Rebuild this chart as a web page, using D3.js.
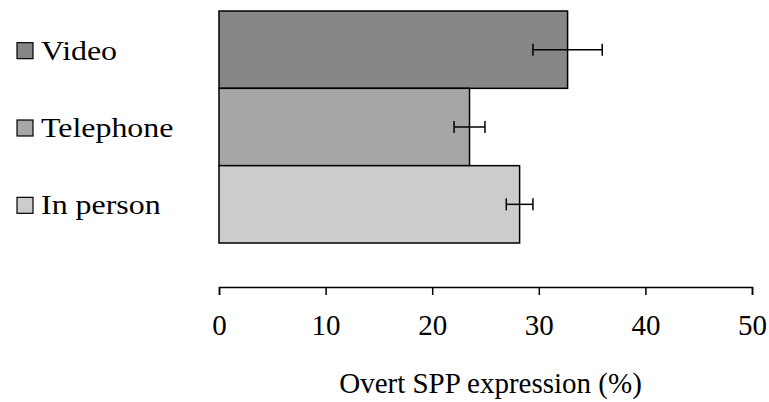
<!DOCTYPE html>
<html>
<head>
<meta charset="utf-8">
<script src="https://cdn.jsdelivr.net/npm/d3@7"></script>
<style>
  html, body { margin: 0; padding: 0; background: #fff; }
</style>
</head>
<body>
<div id="chart"></div>
<script>
// Overt SPP expression by interview mode
const modes = ["Video", "Telephone", "In person"];
const means = [32.7, 23.5, 28.2];
const errors = [3.25, 1.45, 1.25];
const fills = ["#878787", "#a6a6a6", "#cccccc"];
const xTicks = [0, 10, 20, 30, 40, 50];
const xTitle = "Overt SPP expression (%)";

(function () {
  const W = 769, H = 402;
  const FONT = "'Liberation Serif', 'DejaVu Serif', serif";
  const svg = d3.select("#chart").append("svg")
    .attr("width", W).attr("height", H);

  const x = d3.scaleLinear().domain([0, 50]).range([219, 752]);
  const y = d3.scaleBand().domain(modes).range([11, 243]).padding(0);

  // Bars
  svg.selectAll("rect.bar")
    .data(modes)
    .join("rect")
    .attr("class", "bar")
    .attr("x", x(0))
    .attr("y", d => y(d))
    .attr("width", (d, i) => x(means[i]) - x(0))
    .attr("height", y.bandwidth())
    .attr("fill", (d, i) => fills[i])
    .attr("stroke", "#000")
    .attr("stroke-width", 1.5);

  // Error bars
  const capH = 12;
  const eb = svg.selectAll("g.err")
    .data(modes)
    .join("g")
    .attr("class", "err")
    .attr("stroke", "#000")
    .attr("stroke-width", 1.5);
  eb.append("line")
    .attr("x1", (d, i) => x(means[i] - errors[i]))
    .attr("x2", (d, i) => x(means[i] + errors[i]))
    .attr("y1", d => y(d) + y.bandwidth() / 2)
    .attr("y2", d => y(d) + y.bandwidth() / 2);
  eb.append("line")
    .attr("x1", (d, i) => x(means[i] - errors[i]))
    .attr("x2", (d, i) => x(means[i] - errors[i]))
    .attr("y1", d => y(d) + y.bandwidth() / 2 - capH / 2)
    .attr("y2", d => y(d) + y.bandwidth() / 2 + capH / 2);
  eb.append("line")
    .attr("x1", (d, i) => x(means[i] + errors[i]))
    .attr("x2", (d, i) => x(means[i] + errors[i]))
    .attr("y1", d => y(d) + y.bandwidth() / 2 - capH / 2)
    .attr("y2", d => y(d) + y.bandwidth() / 2 + capH / 2);

  // Legend / category labels on the left (text is a bit wide in the original)
  const leg = svg.selectAll("g.leg")
    .data(modes)
    .join("g")
    .attr("class", "leg")
    .attr("transform", d => `translate(17,${y(d) + y.bandwidth() / 2 + 1})`);
  leg.append("rect")
    .attr("x", 0).attr("y", -8)
    .attr("width", 16).attr("height", 16)
    .attr("fill", (d, i) => fills[i])
    .attr("stroke", "#000")
    .attr("stroke-width", 1.2);
  leg.append("text")
    .attr("transform", "translate(24,9) scale(1.14,1)")
    .style("font-family", FONT)
    .style("font-size", "28px")
    .attr("fill", "#000")
    .text(d => d);

  // X axis
  const axis = svg.append("g")
    .attr("transform", "translate(0,287)")
    .call(d3.axisBottom(x).tickValues(xTicks).tickSizeOuter(0).tickSize(8));
  axis.select(".domain").attr("stroke", "#000").attr("stroke-width", 1.5);
  axis.selectAll(".tick line").attr("stroke", "#000").attr("stroke-width", 1.5);
  axis.selectAll(".tick text")
    .attr("y", 48).attr("dy", null)
    .style("font-family", FONT)
    .style("font-size", "29px")
    .attr("fill", "#000");

  svg.append("text")
    .attr("x", (x(0) + x(50)) / 2 + 5)
    .attr("y", 393)
    .attr("text-anchor", "middle")
    .style("font-family", FONT)
    .style("font-size", "29px")
    .attr("fill", "#000")
    .text(xTitle);
})();
</script>
</body>
</html>
